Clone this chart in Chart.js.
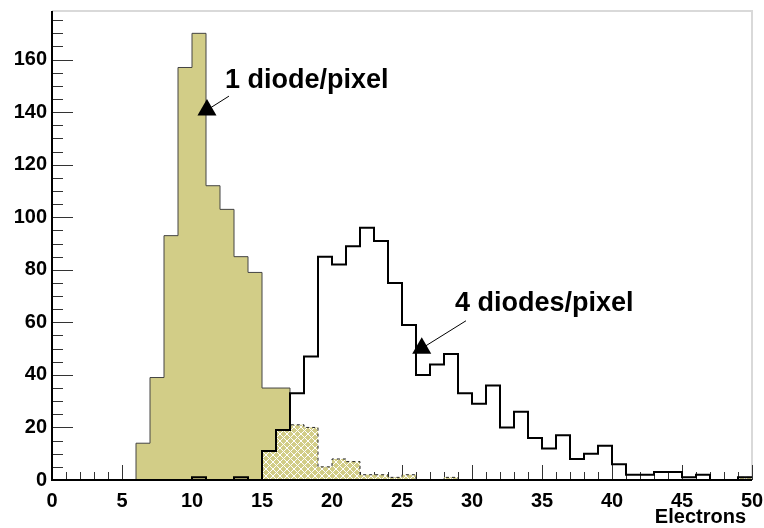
<!DOCTYPE html>
<html>
<head>
<meta charset="utf-8">
<title>Electrons per pixel</title>
<script src="https://cdn.jsdelivr.net/npm/chart.js@4.4.0/dist/chart.umd.min.js"></script>
<style>
  html, body { margin: 0; padding: 0; background: #fff; }
  #grafico { display: block; }
</style>
</head>
<body>
<canvas id="grafico" width="764" height="528"></canvas>
<script>
// Bordes de los bins (ancho 1 electrón)
const bordes = [0,1,2,3,4,5,6,7,8,9,10,11,12,13,14,15,16,17,18,19,20,21,22,23,24,25,
  26,27,28,29,30,31,32,33,34,35,36,37,38,39,40,41,42,43,44,45,46,47,48,49,50];

// Cuentas por bin
const unDiodo = [0,0,0,0,0,0,14,39,93,157,170,112,103,85,79,35,35,0,0,0,
  0,0,0,0,0,0,0,0,0,0,0,0,0,0,0,0,0,0,0,0,0,0,0,0,0,0,0,0,0,0];
const cuatroDiodos = [0,0,0,0,0,0,0,0,0,0,1,0,0,1,0,11,19,33,47,85,
  82,89,96,91,75,59,40,44,48,33,29,36,20,26,16,12,17,8,10,13,6,2,2,3,3,1,2,0,0,1];
const solapado = [0,0,0,0,0,0,0,0,0,0,0,0,0,0,0,11,19,21,20,5,
  8,7,2,2,1,2,0,0,1,0,0,0,0,0,0,0,0,0,0,0,0,0,0,0,0,0,0,0,0,1];

// Ticks de los ejes
const xTicks = [0,5,10,15,20,25,30,35,40,45,50];
const yTicks = [0,20,40,60,80,100,120,140,160];
const yMax = 178.5;

// Etiquetas con flecha: texto, posición del texto, inicio de flecha y marcador
const etiquetas = ["1 diode/pixel", "4 diodes/pixel"];
const etiquetaX = [12.36, 28.79];
const etiquetaY = [149.1, 64.4];
const flechaX = [12.64, 29.57];
const flechaY = [146.1, 60.6];
const marcadorX = [11.07, 26.41];
const marcadorY = [140.8, 50.1];

const oliva = "rgb(210,205,135)";
const fuente = "'Liberation Sans', Arial, Helvetica, sans-serif";

// Convierte cuentas por bin en puntos de escalón
const escalones = vals => vals.map((v, i) => ({x: bordes[i], y: v}))
  .concat([{x: bordes[vals.length], y: vals[vals.length - 1]}]);

const canvas = document.getElementById("grafico");
const ctx = canvas.getContext("2d");

// Relleno cuadriculado (rombos oliva con líneas blancas)
function patronCruzado() {
  const c = document.createElement("canvas");
  c.width = 7; c.height = 7;
  const g = c.getContext("2d");
  g.fillStyle = oliva;
  g.fillRect(0, 0, 7, 7);
  g.strokeStyle = "#fff";
  g.lineWidth = 1;
  g.beginPath();
  for (const d of [-7, 0, 7]) {
    g.moveTo(d, 0); g.lineTo(d + 7, 7);
    g.moveTo(d + 7, 0); g.lineTo(d, 7);
  }
  g.stroke();
  return ctx.createPattern(c, "repeat");
}

// Ejes estilo ROOT: ticks hacia dentro, marco gris, etiquetas con flechas
const ejesRoot = {
  id: "ejesRoot",
  beforeDatasetsDraw(chart) {
    const {ctx, chartArea: a, scales: {x, y}} = chart;
    ctx.save();
    ctx.strokeStyle = "#d9d9d9";
    ctx.lineWidth = 2;
    ctx.beginPath();
    ctx.moveTo(a.left, a.top); ctx.lineTo(a.right, a.top); ctx.lineTo(a.right, a.bottom);
    ctx.stroke();

    ctx.strokeStyle = "#333";
    ctx.lineWidth = 1;
    ctx.beginPath();
    for (let v = 0; v <= yMax; v += 5) {
      const py = Math.round(y.getPixelForValue(v)) + 0.5;
      const largo = v % 20 === 0 ? 21 : 11;
      ctx.moveTo(a.left, py); ctx.lineTo(a.left + largo, py);
    }
    for (let v = 0; v <= 50; v += 1) {
      const px = Math.round(x.getPixelForValue(v)) + 0.5;
      const largo = v % 5 === 0 ? 15 : 8;
      ctx.moveTo(px, a.bottom); ctx.lineTo(px, a.bottom - largo);
    }
    ctx.stroke();
    ctx.restore();
  },
  afterDatasetsDraw(chart) {
    const {ctx, chartArea: a, scales: {x, y}} = chart;
    ctx.save();
    ctx.strokeStyle = "#000";
    ctx.lineWidth = 2;
    ctx.beginPath();
    ctx.moveTo(a.left, a.top); ctx.lineTo(a.left, a.bottom); ctx.lineTo(a.right, a.bottom);
    ctx.stroke();

    ctx.fillStyle = "#000";
    ctx.font = "bold 27px " + fuente;
    ctx.textAlign = "left";
    ctx.textBaseline = "alphabetic";
    etiquetas.forEach((t, i) => {
      ctx.fillText(t, x.getPixelForValue(etiquetaX[i]), y.getPixelForValue(etiquetaY[i]));
    });

    ctx.font = "bold 20px " + fuente;
    ctx.textAlign = "right";
    ctx.fillText("Electrons", a.right - 6, 523);
    ctx.restore();
  }
};

const lineaFlecha = i => ({
  data: [{x: flechaX[i], y: flechaY[i]}, {x: marcadorX[i], y: marcadorY[i]}],
  borderColor: "#000",
  borderWidth: 1,
  pointRadius: 0,
  fill: false,
  order: 0
});

new Chart(ctx, {
  type: "line",
  data: {
    datasets: [
      {
        data: marcadorX.map((v, i) => ({x: v, y: marcadorY[i]})),
        showLine: false,
        pointStyle: "triangle",
        pointRadius: 11,
        pointBackgroundColor: "#000",
        pointBorderColor: "#000",
        pointBorderWidth: 0,
        order: -1
      },
      lineaFlecha(0),
      lineaFlecha(1),
      {
        label: "4 diodes/pixel",
        data: escalones(cuatroDiodos),
        stepped: true,
        borderColor: "#000",
        borderWidth: 2,
        pointRadius: 0,
        fill: false,
        order: 1
      },
      {
        label: "solapado",
        data: escalones(solapado),
        stepped: true,
        borderColor: "#222",
        borderWidth: 1,
        borderDash: [3, 3],
        backgroundColor: patronCruzado(),
        pointRadius: 0,
        fill: "origin",
        order: 2
      },
      {
        label: "1 diode/pixel",
        data: escalones(unDiodo),
        stepped: true,
        borderColor: "#444",
        borderWidth: 1,
        backgroundColor: oliva,
        pointRadius: 0,
        fill: "origin",
        order: 3
      }
    ]
  },
  options: {
    responsive: false,
    animation: false,
    events: [],
    layout: { padding: { top: 6, right: 12, left: 0, bottom: 0 } },
    plugins: { legend: { display: false }, tooltip: { enabled: false } },
    scales: {
      x: {
        type: "linear",
        min: 0,
        max: 50,
        afterBuildTicks: s => { s.ticks = xTicks.map(v => ({value: v})); },
        afterFit: s => {
          s.height = 48;
          s.paddingLeft = 0; s.paddingRight = 0;
        },
        ticks: {
          font: { family: fuente, size: 20, weight: "bold" },
          color: "#000",
          padding: 9,
          maxRotation: 0,
          autoSkip: false
        },
        grid: { display: false, drawTicks: false },
        border: { display: false }
      },
      y: {
        type: "linear",
        min: 0,
        max: yMax,
        afterBuildTicks: s => { s.ticks = yTicks.map(v => ({value: v})); },
        afterFit: s => {
          s.width = 52;
          s.paddingTop = 0; s.paddingBottom = 0;
        },
        ticks: {
          font: { family: fuente, size: 20, weight: "bold" },
          color: "#000",
          padding: 5,
          autoSkip: false
        },
        grid: { display: false, drawTicks: false },
        border: { display: false }
      }
    }
  },
  plugins: [ejesRoot]
});
</script>
</body>
</html>
